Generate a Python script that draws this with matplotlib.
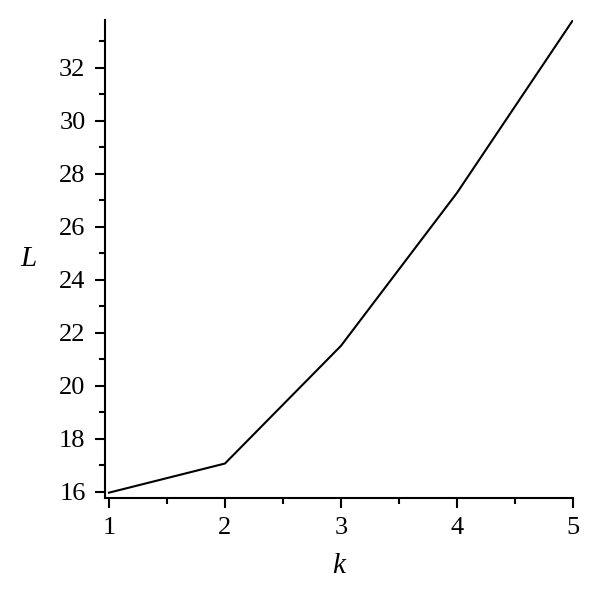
import matplotlib
matplotlib.use("Agg")
import matplotlib.pyplot as plt
from matplotlib.ticker import MultipleLocator

k = [1, 2, 3, 4, 5]
L = [15.97, 17.07, 21.51, 27.28, 33.8]

plt.rcParams['font.family'] = ['Liberation Serif', 'DejaVu Serif']

fig = plt.figure(figsize=(6, 6.03), dpi=100)
ax = fig.add_axes([0.175, 0.1746, 0.78, 0.7922])
ax.plot(k, L, color='black', lw=1.5)
ax.set_xlim(0.966, 5)
ax.set_ylim(15.78, 33.8)
ax.spines['top'].set_visible(False)
ax.spines['right'].set_visible(False)
for s in ['left', 'bottom']:
    ax.spines[s].set_linewidth(1.5)
ax.xaxis.set_major_locator(MultipleLocator(1))
ax.xaxis.set_minor_locator(MultipleLocator(0.5))
ax.yaxis.set_major_locator(MultipleLocator(2))
ax.yaxis.set_minor_locator(MultipleLocator(1))
ax.tick_params(which='major', direction='out', length=7, width=1.5, labelsize=19, pad=7)
ax.tick_params(which='minor', direction='out', length=4, width=1.5)
ax.set_xlabel('k', fontsize=21, fontstyle='italic', labelpad=10)
ax.set_ylabel('L', fontsize=21, fontstyle='italic', rotation=0, labelpad=22, va='center')
fig.savefig('out.png', dpi=100)
